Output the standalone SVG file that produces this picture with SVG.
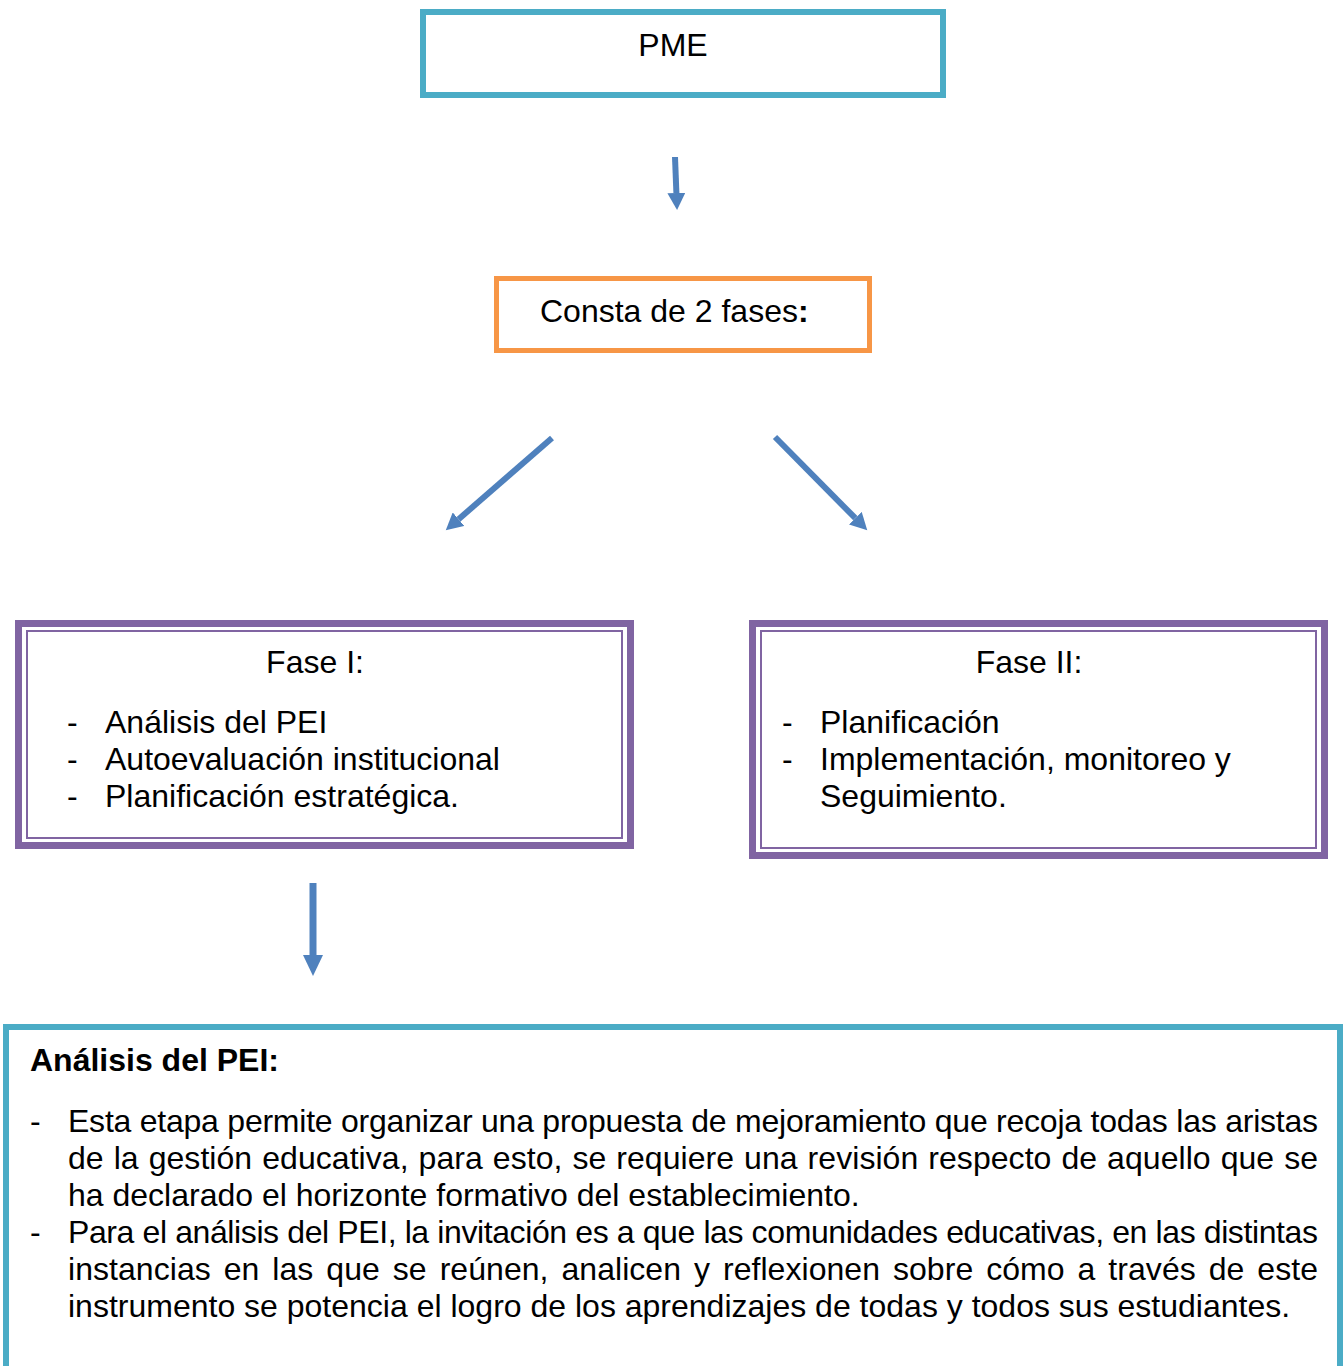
<svg xmlns="http://www.w3.org/2000/svg" width="1344" height="1366" viewBox="0 0 1344 1366">
<defs>
<style>
.t{font-family:"Liberation Sans",Arial,sans-serif;font-size:32px;fill:#000}
.b{font-weight:bold}
.cy{fill:#fff;stroke:#4BACC6;stroke-width:6}
.or{fill:#fff;stroke:#F79646;stroke-width:5}
.pu{fill:#fff;stroke:#8064A2;stroke-width:7}
.pi{fill:none;stroke:#8064A2;stroke-width:2}
.ar{stroke:#4F81BD;stroke-width:6;fill:none;marker-end:url(#ah)}
</style>
<marker id="ah" markerUnits="userSpaceOnUse" viewBox="0 0 18 18" refX="0" refY="9" markerWidth="18" markerHeight="18" orient="auto">
<path d="M0,0 L17,9 L0,18 z" fill="#4F81BD"/>
</marker>
<marker id="ah2" markerUnits="userSpaceOnUse" viewBox="0 0 22 20" refX="0" refY="10" markerWidth="22" markerHeight="20" orient="auto">
<path d="M0,0 L21,10 L0,20 z" fill="#4F81BD"/>
</marker>
</defs>
<rect width="1344" height="1366" fill="#fff"/>
<g id="connectors">
<line class="ar" x1="675" y1="157" x2="676.4" y2="193"/>
<line class="ar" x1="552" y1="438" x2="458.6" y2="519.2"/>
<line class="ar" x1="775" y1="437" x2="855.3" y2="518.2"/>
<line class="ar" x1="313" y1="883" x2="313" y2="955" style="stroke-width:7;marker-end:url(#ah2)"/>
</g>
<g id="pme">
<rect class="cy" x="423" y="12" width="520" height="83"/>
<text class="t" x="673" y="56" text-anchor="middle">PME</text>
</g>
<g id="consta">
<rect class="or" x="496.5" y="278.5" width="373" height="72"/>
<text class="t" x="540" y="322">Consta de 2 fases<tspan class="b">:</tspan></text>
</g>
<g id="fase1">
<rect class="pu" x="18.5" y="623.5" width="612" height="222"/>
<rect class="pi" x="27" y="631" width="595" height="207"/>
<text class="t" x="315" y="673" text-anchor="middle">Fase I:</text>
<text class="t" x="67" y="733">-</text>
<text class="t" x="105" y="733">Análisis del PEI</text>
<text class="t" x="67" y="770">-</text>
<text class="t" x="105" y="770">Autoevaluación institucional</text>
<text class="t" x="67" y="807">-</text>
<text class="t" x="105" y="807">Planificación estratégica.</text>
</g>
<g id="fase2">
<rect class="pu" x="752.5" y="623.5" width="572" height="232"/>
<rect class="pi" x="761" y="631" width="555" height="217"/>
<text class="t" x="1029" y="673" text-anchor="middle">Fase II:</text>
<text class="t" x="782" y="733">-</text>
<text class="t" x="820" y="733">Planificación</text>
<text class="t" x="782" y="770">-</text>
<text class="t" x="820" y="770">Implementación, monitoreo y</text>
<text class="t" x="820" y="807">Seguimiento.</text>
</g>
<g id="analisis">
<rect class="cy" x="6" y="1027" width="1334" height="400"/>
<text class="t b" x="30" y="1071">Análisis del PEI:</text>
<text class="t" x="30" y="1132">-</text>
<text class="t" x="68" y="1132" textLength="1250" lengthAdjust="spacing">Esta etapa permite organizar una propuesta de mejoramiento que recoja todas las aristas</text>
<text class="t" x="68" y="1169" textLength="1250" lengthAdjust="spacing" word-spacing="1">de la gestión educativa, para esto, se requiere una revisión respecto de aquello que se</text>
<text class="t" x="68" y="1206">ha declarado el horizonte formativo del establecimiento.</text>
<text class="t" x="30" y="1243">-</text>
<text class="t" x="68" y="1243" textLength="1250" lengthAdjust="spacing">Para el análisis del PEI, la invitación es a que las comunidades educativas, en las distintas</text>
<text class="t" x="68" y="1280" textLength="1250" lengthAdjust="spacing" word-spacing="4">instancias en las que se reúnen, analicen y reflexionen sobre cómo a través de este</text>
<text class="t" x="68" y="1317">instrumento se potencia el logro de los aprendizajes de todas y todos sus estudiantes.</text>
</g>
</svg>
